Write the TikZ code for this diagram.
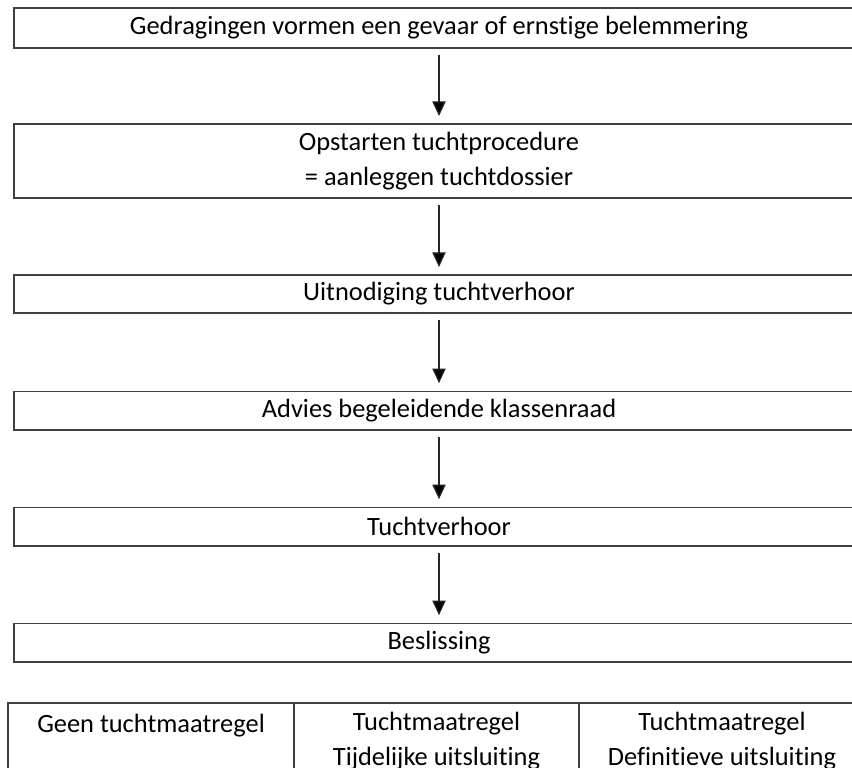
\documentclass[tikz,border=0pt]{standalone}
\usepackage{fontspec}
\setmainfont{Carlito}[Ligatures=NoCommon]
\usetikzlibrary{arrows.meta,positioning}

\begin{document}
\begin{tikzpicture}[x=0.75pt,y=-0.75pt,
                    stage node/.style={rectangle,draw=black!75,line width=1pt,minimum width=637.5pt,inner sep=0pt,align=center,font=\fontsize{19.8}{26}\selectfont},
                    cell node/.style={rectangle,draw=black!75,line width=1pt,minimum height=57pt,inner sep=0pt,align=center,font=\fontsize{19.8}{26}\selectfont}]

 \useasboundingbox (0,0) rectangle (852,767);
 \clip (0,0) rectangle (852,767);

 \node[stage node,minimum height=30pt] (1) at (439,28) {Gedragingen vormen een gevaar of ernstige belemmering};

 \node[stage node,minimum height=55.5pt] (2) at (439,161) {Opstarten tuchtprocedure\\= aanleggen tuchtdossier};

 \node[stage node,minimum height=28.5pt] (3) at (439,294) {Uitnodiging tuchtverhoor};

 \node[stage node,minimum height=29pt] (4) at (439,410.5) {Advies begeleidende klassenraad};

 \node[stage node,minimum height=29pt] (5) at (439,526.5) {Tuchtverhoor};

 \node[stage node,minimum height=29pt] (6) at (439,642.5) {Beslissing};

 % uitkomsten
 \node[cell node,minimum width=214.5pt] (geen) at (151,741) {Geen tuchtmaatregel\\\mbox{}};

 \node[cell node,minimum width=213.75pt] (tijdelijk) at (436.5,741) {Tuchtmaatregel\\Tijdelijke uitsluiting};

 \node[cell node,minimum width=214.5pt] (definitief) at (722,741) {Tuchtmaatregel\\Definitieve uitsluiting};

  \path[-{Triangle[length=11pt,width=10pt]},draw=black!85,line width=0.9pt,shorten <=4.5pt,shorten >=5.5pt]
    (1) edge (2)
    (2) edge (3)
    (3) edge (4)
    (4) edge (5)
    (5) edge (6);

\end{tikzpicture}
\end{document}
